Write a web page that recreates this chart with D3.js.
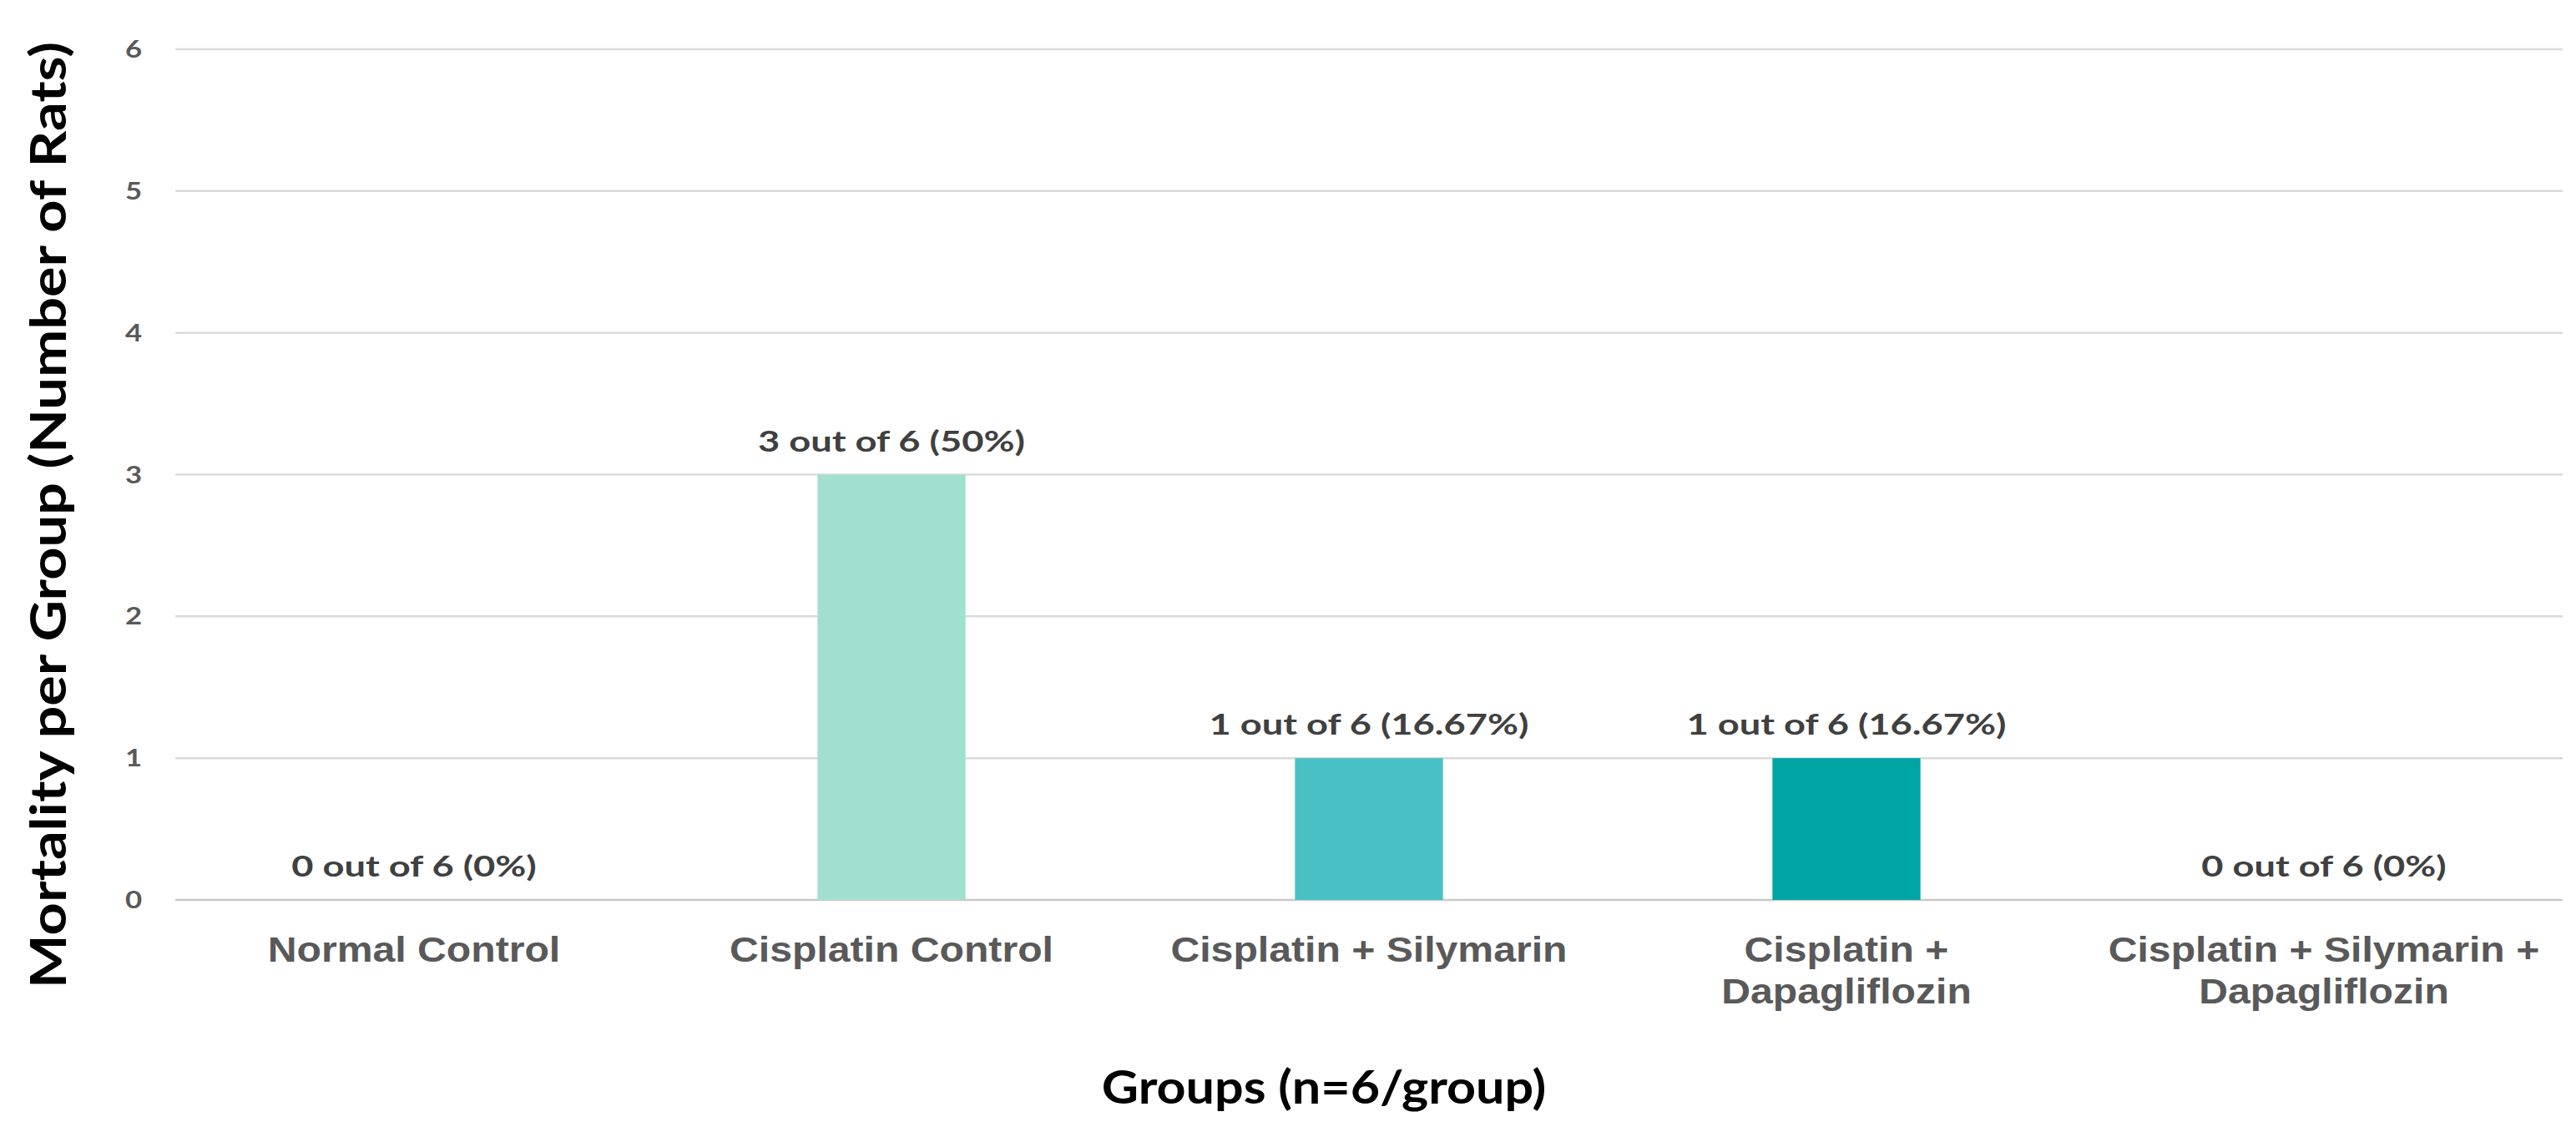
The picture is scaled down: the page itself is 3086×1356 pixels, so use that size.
<!DOCTYPE html>
<html>
<head>
<meta charset="utf-8">
<script src="https://cdn.jsdelivr.net/npm/d3@7"></script>
<style>
  body { margin: 0; background: #fff; }
</style>
</head>
<body>
<div id="chart"></div>
<script>
// data
let groups = ["Normal Control", "Cisplatin Control", "Cisplatin + Silymarin",
              "Cisplatin + Dapagliflozin", "Cisplatin + Silymarin + Dapagliflozin"];
let groupLines = [["Normal Control"], ["Cisplatin Control"], ["Cisplatin + Silymarin"],
                  ["Cisplatin +", "Dapagliflozin"], ["Cisplatin + Silymarin +", "Dapagliflozin"]];
let deaths = [0, 3, 1, 1, 0];
let valueLabels = ["0 out of 6 (0%)", "3 out of 6 (50%)", "1 out of 6 (16.67%)",
                   "1 out of 6 (16.67%)", "0 out of 6 (0%)"];
let yTicks = [0, 1, 2, 3, 4, 5, 6];
let barColors = ["#a1e0d0", "#a1e0d0", "#48c1c5", "#00a6a6", "#a1e0d0"];

let width = 3086,
    height = 1356;
let margin = {top: 59, right: 16, bottom: 278, left: 210};

// the original picture is a bit wider than its fonts, so stretch text sideways
function stretch(sel, k) {
    sel.each(function() {
        let w = this.getComputedTextLength();
        d3.select(this)
            .attr("textLength", w * k)
            .attr("lengthAdjust", "spacingAndGlyphs");
    });
}

let svg = d3.select("#chart")
    .append("svg")
    .attr("width", width)
    .attr("height", height);

let x = d3.scaleBand()
    .domain(groups)
    .range([margin.left, width - margin.right])
    .paddingInner(0.69)
    .paddingOuter(0.345);

let y = d3.scaleLinear()
    .domain([0, 6])
    .range([height - margin.bottom, margin.top]);

// gridlines
svg.append("g")
    .selectAll("line")
    .data(yTicks)
    .enter().append("line")
    .attr("x1", margin.left)
    .attr("x2", width - margin.right)
    .attr("y1", d => y(d))
    .attr("y2", d => y(d))
    .attr("stroke", d => d == 0 ? "#c8c8c8" : "#dadada")
    .attr("stroke-width", 2.5);

// y tick labels
svg.append("g")
    .selectAll("text")
    .data(yTicks)
    .enter().append("text")
    .attr("x", 160)
    .attr("y", d => y(d))
    .attr("dy", "0.35em")
    .attr("text-anchor", "middle")
    .style("font-family", "Lato, sans-serif")
    .style("font-weight", "bold")
    .style("font-size", "29px")
    .style("fill", "#595959")
    .text(d => d)
    .call(stretch, 1.2);

// bars
svg.append("g")
    .selectAll("rect")
    .data(deaths)
    .enter().append("rect")
    .attr("x", (d, i) => x(groups[i]))
    .attr("y", d => y(d))
    .attr("width", x.bandwidth())
    .attr("height", d => y(0) - y(d))
    .style("fill", (d, i) => barColors[i]);

// value labels
svg.append("g")
    .selectAll("text")
    .data(deaths)
    .enter().append("text")
    .attr("x", (d, i) => x(groups[i]) + x.bandwidth() / 2)
    .attr("y", d => y(d) - 28)
    .attr("text-anchor", "middle")
    .style("font-family", "Lato, sans-serif")
    .style("font-weight", "bold")
    .style("font-size", "34px")
    .style("fill", "#404040")
    .text((d, i) => valueLabels[i])
    .call(stretch, 1.33);

// category labels
let cat = svg.append("g")
    .selectAll("text")
    .data(groups)
    .enter().append("text")
    .attr("x", d => x(d) + x.bandwidth() / 2)
    .attr("y", 1152)
    .attr("text-anchor", "middle")
    .style("font-family", "'Liberation Sans', Arial, sans-serif")
    .style("font-weight", "bold")
    .style("font-size", "43px")
    .style("fill", "#595959");

cat.selectAll("tspan")
    .data((d, i) => groupLines[i])
    .enter().append("tspan")
    .attr("x", function() { return d3.select(this.parentNode).attr("x"); })
    .attr("dy", (d, i) => i == 0 ? 0 : 50)
    .text(d => d)
    .call(stretch, 1.12);

// axis titles
svg.append("text")
    .attr("x", 1586)
    .attr("y", 1322)
    .attr("text-anchor", "middle")
    .style("font-family", "Lato, sans-serif")
    .style("font-weight", "bold")
    .style("font-size", "56px")
    .style("fill", "#000")
    .text("Groups (n=6/group)")
    .call(stretch, 1.09);

svg.append("text")
    .attr("transform", "translate(79,617) rotate(-90)")
    .attr("text-anchor", "middle")
    .style("font-family", "Lato, sans-serif")
    .style("font-weight", "bold")
    .style("font-size", "60px")
    .style("fill", "#000")
    .text("Mortality per Group (Number of Rats)")
    .call(stretch, 1.14);
</script>
</body>
</html>
